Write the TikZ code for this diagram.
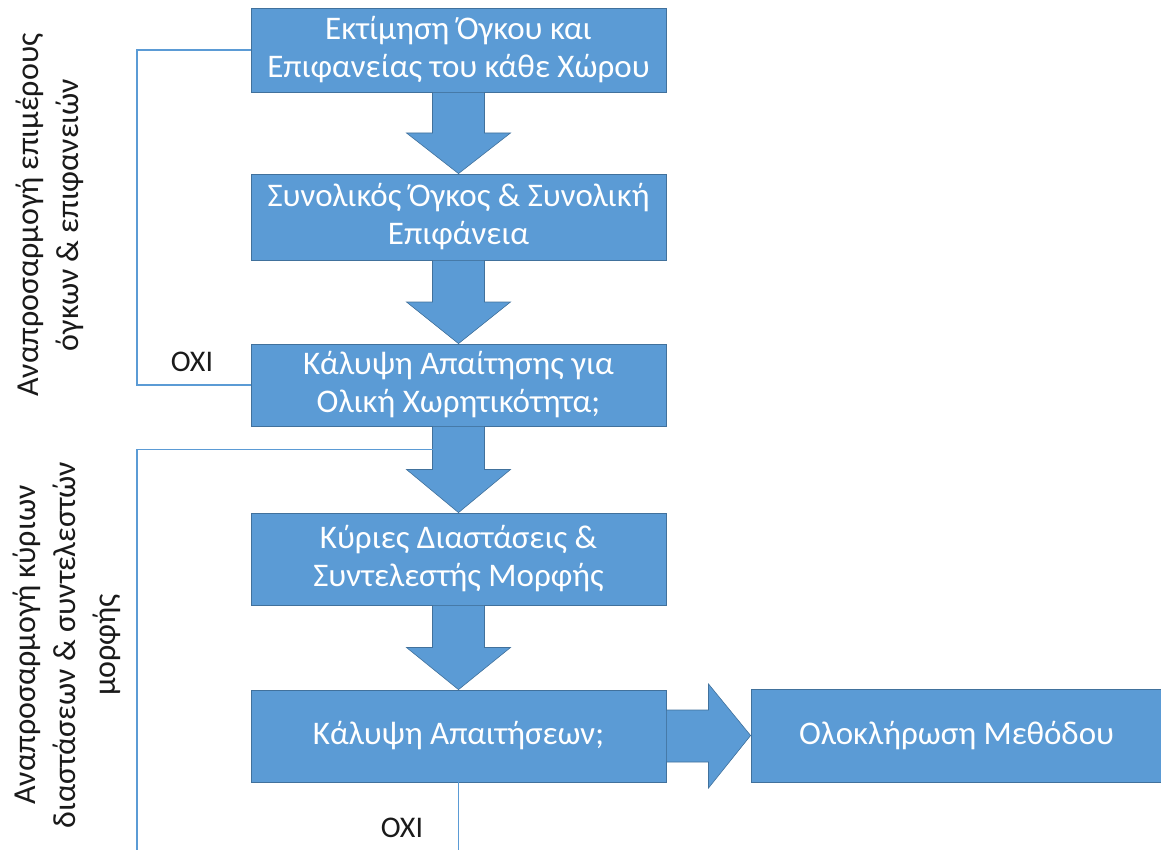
\documentclass[tikz,border=0pt]{standalone}
\usepackage{fontspec}
\setmainfont{Carlito}
\usetikzlibrary{calc}
\definecolor{boxfill}{HTML}{5B9BD5}
\definecolor{boxline}{HTML}{41719C}
\definecolor{txtdark}{HTML}{1A1A1A}
\tikzset{
  stepbox/.style={draw=boxline, line width=0.8pt, fill=boxfill, text=white, align=center,
    minimum width=415pt, inner sep=0pt, font=\fontsize{33}{38}\selectfont},
  blockarrow/.style={draw=boxline, line width=0.6pt, fill=boxfill},
  fbline/.style={draw=boxfill, line width=1.2pt},
  sidelabel/.style={rotate=90, align=center, text=txtdark, font=\fontsize{32}{40}\selectfont},
  nolabel/.style={text=txtdark, font=\fontsize{30}{32}\selectfont, inner sep=0pt}
}
\newcommand{\downblock}[2]{%
  \path[blockarrow] let \p1=(#1.south), \p2=(#2.north), \n1={(\y1+\y2)/2} in
    (\x1-26pt,\y1) -- (\x1+26pt,\y1) -- (\x1+26pt,\n1) -- (\x1+52pt,\n1) -- (\x1,\y2)
    -- (\x1-52pt,\n1) -- (\x1-26pt,\n1) -- cycle;}
\begin{document}
\begin{tikzpicture}[x=1pt,y=-1pt]
\useasboundingbox (0,0) rectangle (1161,850);
\node[stepbox, minimum height=84pt] (b1) at (458.5,50) {Εκτίμηση Όγκου και\\Επιφανείας του κάθε Χώρου};
\node[stepbox, minimum height=86pt] (b2) at (458.5,217) {Συνολικός Όγκος \& Συνολική\\Επιφάνεια};
\node[stepbox, minimum height=82pt] (b3) at (458.5,385) {Κάλυψη Απαίτησης για\\Ολική Χωρητικότητα;};
\node[stepbox, minimum height=92pt] (b4) at (458.5,559) {Κύριες Διαστάσεις \&\\Συντελεστής Μορφής};
\node[stepbox, minimum height=92pt] (b5) at (458.5,736) {Κάλυψη Απαιτήσεων;};
\node[stepbox, minimum height=93pt, minimum width=411pt] (b6) at (956.5,735.5) {Ολοκλήρωση Μεθόδου};
\downblock{b1}{b2}
\downblock{b2}{b3}
\downblock{b3}{b4}
\downblock{b4}{b5}
% right block arrow
\path[blockarrow] let \p1=(b5.east), \p2=(b6.west), \n1={(\x1+\x2)/2} in
  (\x1,\y1-26pt) -- (\n1,\y1-26pt) -- (\n1,\y1-52pt) -- (\x2,\y2) -- (\n1,\y1+52pt)
  -- (\n1,\y1+26pt) -- (\x1,\y1+26pt) -- cycle;
% feedback loop 1
\coordinate (lx) at (137,0);
\draw[fbline] (b3.west) -| (lx |- b1.west) -- (b1.west);
\node[nolabel] (no1) at (192,362) {ΟΧΙ};
% feedback loop 2
\coordinate (fbend) at ($(b3.south)+(-26,23)$);
\coordinate (bl) at (137,850);
\coordinate (br) at (458.5,850);
\draw[fbline] (bl) -- (lx |- fbend) -- (fbend);
\draw[fbline] (b5.south) -- (br);
\node[nolabel] (no2) at (402,828) {ΟΧΙ};
% side labels
\node[sidelabel] (s1) at (50,215) {Αναπροσαρμογή επιμέρους\\όγκων \& επιφανειών};
\node[sidelabel] (s2) at (67,645) {Αναπροσαρμογή κύριων\\διαστάσεων \& συντελεστών\\μορφής};
\end{tikzpicture}
\end{document}
